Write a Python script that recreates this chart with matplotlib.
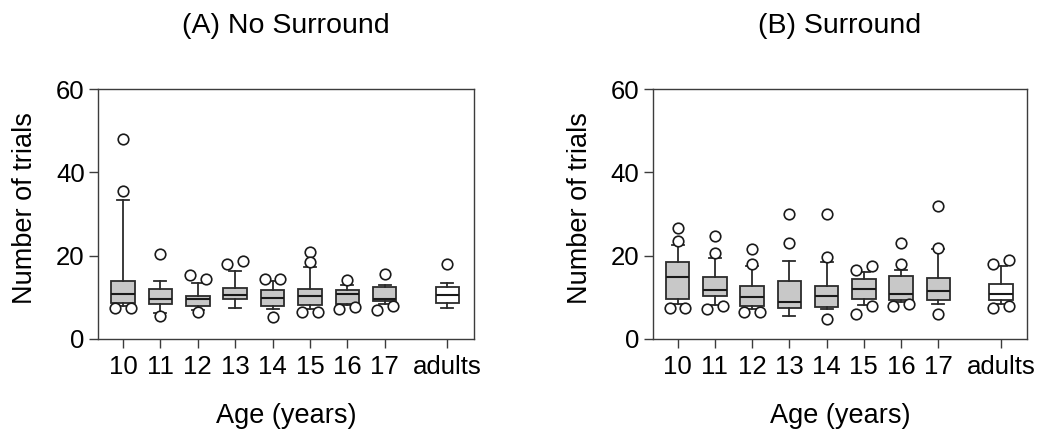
import matplotlib
matplotlib.use("Agg")
import matplotlib.pyplot as plt

plt.rcParams['font.family'] = ['Liberation Sans', 'DejaVu Sans']

age_labels = ["10", "11", "12", "13", "14", "15", "16", "17", "adults"]
positions = [1, 2, 3, 4, 5, 6, 7, 8, 9.68]

# (A) No Surround
q1_A = [8.7, 8.3, 7.9, 9.6, 7.95, 8.1, 8.5, 9.1, 8.7]
med_A = [10.8, 9.5, 9.5, 10.5, 9.9, 10.2, 10.7, 9.5, 10.5]
q3_A = [13.9, 12.1, 10.4, 12.3, 11.8, 12.1, 11.8, 12.4, 12.4]
wlo_A = [8.0, 6.3, 7.0, 7.5, 7.1, 7.3, 8.1, 8.5, 7.5]
whi_A = [33.4, 14.0, 13.4, 16.4, 13.9, 17.3, 13.0, 13.0, 13.5]
out_A = [[48.1, 35.6, 7.5, 7.5], [20.5, 5.5], [15.3, 14.5, 6.4], [17.9, 18.6],
         [14.5, 14.5, 5.3], [20.9, 18.5, 6.5, 6.5], [14.1, 7.1, 7.6],
         [15.6, 6.9, 7.95], [18.0]]

# (B) Surround
q1_B = [9.7, 10.4, 7.9, 7.5, 7.6, 9.6, 9.3, 9.3, 9.3]
med_B = [14.9, 11.7, 10.1, 8.8, 10.4, 11.9, 10.8, 11.6, 10.9]
q3_B = [18.4, 14.9, 12.7, 13.9, 12.8, 14.4, 15.2, 14.7, 13.3]
wlo_B = [8.3, 8.2, 7.2, 5.5, 7.1, 8.1, 8.9, 8.4, 8.4]
whi_B = [22.6, 19.5, 17.4, 18.6, 18.5, 16.1, 16.6, 21.5, 17.4]
out_B = [[26.6, 23.6, 7.5, 7.5], [24.6, 20.7, 7.1, 7.9], [21.5, 18.1, 6.4, 6.4],
         [30.0, 23.0], [30.0, 19.6, 4.9], [16.6, 17.6, 5.9, 7.9],
         [23.0, 18.1, 7.9, 8.4], [32.0, 21.9, 5.9], [18.0, 19.0, 7.5, 7.9]]

titles = ["(A) No Surround", "(B) Surround"]

FS_TICK = 18.5
FS_LAB = 19.5
FS_TITLE = 20.5
EDGE = '#2b2b2b'
SPINE = '#3c3c3c'
GRAY = '#c8c8c8'

fig = plt.figure(figsize=(10.39, 4.37), dpi=100)
ax_rects = [[0.0943, 0.2243, 0.3619, 0.572], [0.6282, 0.2243, 0.3605, 0.572]]

datasets = [(q1_A, med_A, q3_A, wlo_A, whi_A, out_A),
            (q1_B, med_B, q3_B, wlo_B, whi_B, out_B)]


def cluster_offsets(vals, thr=2.2, off=0.21):
    groups = []
    for v in vals:
        if groups and abs(v - groups[-1][-1]) <= thr:
            groups[-1].append(v)
        else:
            groups.append([v])
    res = []
    for g in groups:
        if len(g) == 1:
            res.append((0.0, g[0]))
        else:
            n = len(g)
            for i, v in enumerate(g):
                res.append((-off + 2 * off * i / (n - 1), v))
    return res


for k, (rect, data, title) in enumerate(zip(ax_rects, datasets, titles)):
    ax = fig.add_axes(rect)
    q1, med, q3, wlo, whi, outs = data
    stats = []
    for i in range(len(positions)):
        stats.append(dict(med=med[i], q1=q1[i], q3=q3[i], whislo=wlo[i],
                          whishi=whi[i], fliers=[]))
    bp = ax.bxp(stats, positions=positions, widths=0.63, capwidths=0.32,
                patch_artist=True, showfliers=False, manage_ticks=False,
                boxprops=dict(facecolor=GRAY, edgecolor=EDGE, linewidth=1.3),
                medianprops=dict(color='#1a1a1a', linewidth=1.5),
                whiskerprops=dict(color=EDGE, linewidth=1.3),
                capprops=dict(color=EDGE, linewidth=1.3))
    bp['boxes'][-1].set_facecolor('white')
    for i, vals in enumerate(outs):
        for dx, v in cluster_offsets(vals):
            ax.plot(positions[i] + dx, v, 'o', mfc='white', mec='#1a1a1a',
                    ms=7.6, mew=1.2, zorder=4, clip_on=False)
    ax.set_xlim(0.33, 10.39)
    ax.set_ylim(0, 60)
    ax.set_yticks([0, 20, 40, 60])
    ax.set_xticks(positions)
    ax.set_xticklabels(age_labels)
    for s in ax.spines.values():
        s.set_color(SPINE)
        s.set_linewidth(1.0)
    ax.tick_params(axis='both', direction='out', length=6.5, width=1.0,
                   color=SPINE, labelsize=FS_TICK, colors='black')
    ax.tick_params(axis='x', pad=5)
    ax.tick_params(axis='y', pad=3)
    ax.set_ylabel("Number of trials", fontsize=FS_LAB, labelpad=13, y=0.525)
    ax.set_xlabel("Age (years)", fontsize=FS_LAB, labelpad=17)
    ax.set_title(title, fontsize=FS_TITLE, pad=40)

fig.savefig("out.png", dpi=100)
